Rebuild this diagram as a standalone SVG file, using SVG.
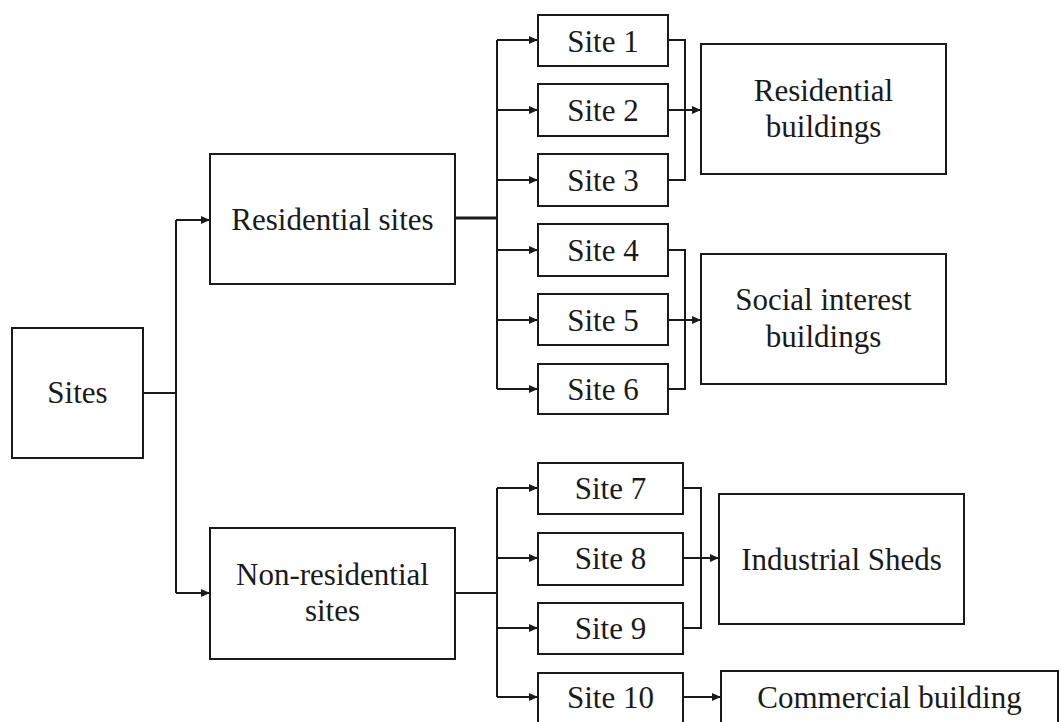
<svg xmlns="http://www.w3.org/2000/svg" width="1060" height="722" viewBox="0 0 1060 722">
<style>
.box{fill:#fff;stroke:#1a1a1a;stroke-width:2}
.t{font-family:'Liberation Serif','Times New Roman','DejaVu Serif',serif;font-size:31px;fill:#1a1a1a;text-anchor:middle}
.c{fill:none;stroke:#1a1a1a;stroke-width:2}
.a{fill:none;stroke:#1a1a1a;stroke-width:2;marker-end:url(#ah)}
</style>
<defs>
<marker id="ah" markerUnits="userSpaceOnUse" markerWidth="9" markerHeight="8" refX="9" refY="4" orient="auto">
<path d="M0,0 L9,4 L0,8 z" fill="#1a1a1a"/>
</marker>
</defs>
<rect width="1060" height="722" fill="#fff"/>
<g id="connectors">
<path class="c" d="M143 393 H176 M176 220 V593"/>
<path class="a" d="M176 220 H210"/>
<path class="a" d="M176 593 H210"/>
<path class="c" d="M455 218 H497" style="stroke-width:3"/>
<path class="c" d="M497 40 V389"/>
<path class="a" d="M497 40 H538"/>
<path class="a" d="M497 110 H538"/>
<path class="a" d="M497 180 H538"/>
<path class="a" d="M497 250 H538"/>
<path class="a" d="M497 320 H538"/>
<path class="a" d="M497 389 H538"/>
<path class="c" d="M668 40 H685 V180 H668"/>
<path class="a" d="M668 110 H701"/>
<path class="c" d="M668 250 H685 V389 H668"/>
<path class="a" d="M668 320 H701"/>
<path class="c" d="M455 593 H497 M497 488 V697"/>
<path class="a" d="M497 488 H538"/>
<path class="a" d="M497 558 H538"/>
<path class="a" d="M497 628 H538"/>
<path class="a" d="M497 697 H538"/>
<path class="c" d="M683 488 H701 V628 H683"/>
<path class="a" d="M683 558 H719"/>
<path class="a" d="M683 697 H721"/>
</g>
<g id="sites"><rect class="box" x="12" y="328" width="131" height="130"/><text class="t" font-family="Liberation Serif" x="77.5" y="403">Sites</text></g>
<g id="residential-sites"><rect class="box" x="210" y="154" width="245" height="130"/><text class="t" x="332.5" y="230">Residential sites</text></g>
<g id="non-residential-sites"><rect class="box" x="210" y="528" width="245" height="131"/><text class="t" x="332.5" y="585">Non-residential</text><text class="t" x="332.5" y="621">sites</text></g>
<g id="site1"><rect class="box" x="538" y="15" width="130" height="51"/><text class="t" x="603" y="52">Site 1</text></g>
<g id="site2"><rect class="box" x="538" y="84" width="130" height="52"/><text class="t" x="603" y="121">Site 2</text></g>
<g id="site3"><rect class="box" x="538" y="154" width="130" height="52"/><text class="t" x="603" y="191">Site 3</text></g>
<g id="site4"><rect class="box" x="538" y="224" width="130" height="52"/><text class="t" x="603" y="261">Site 4</text></g>
<g id="site5"><rect class="box" x="538" y="294" width="130" height="51"/><text class="t" x="603" y="331">Site 5</text></g>
<g id="site6"><rect class="box" x="538" y="364" width="130" height="50"/><text class="t" x="603" y="400">Site 6</text></g>
<g id="site7"><rect class="box" x="538" y="463" width="145" height="51"/><text class="t" x="610.5" y="499">Site 7</text></g>
<g id="site8"><rect class="box" x="538" y="533" width="145" height="52"/><text class="t" x="610.5" y="569">Site 8</text></g>
<g id="site9"><rect class="box" x="538" y="603" width="145" height="51"/><text class="t" x="610.5" y="639">Site 9</text></g>
<g id="site10"><rect class="box" x="538" y="673" width="145" height="60"/><text class="t" x="610.5" y="708">Site 10</text></g>
<g id="residential-buildings"><rect class="box" x="701" y="44" width="245" height="130"/><text class="t" x="823.5" y="101">Residential</text><text class="t" x="823.5" y="137">buildings</text></g>
<g id="social-interest-buildings"><rect class="box" x="701" y="254" width="245" height="130"/><text class="t" x="823.5" y="310">Social interest</text><text class="t" x="823.5" y="347">buildings</text></g>
<g id="industrial-sheds"><rect class="box" x="719" y="494" width="245" height="130"/><text class="t" x="841.5" y="570">Industrial Sheds</text></g>
<g id="commercial-building"><rect class="box" x="721" y="671" width="337" height="80"/><text class="t" x="889.5" y="708">Commercial building</text></g>
</svg>
